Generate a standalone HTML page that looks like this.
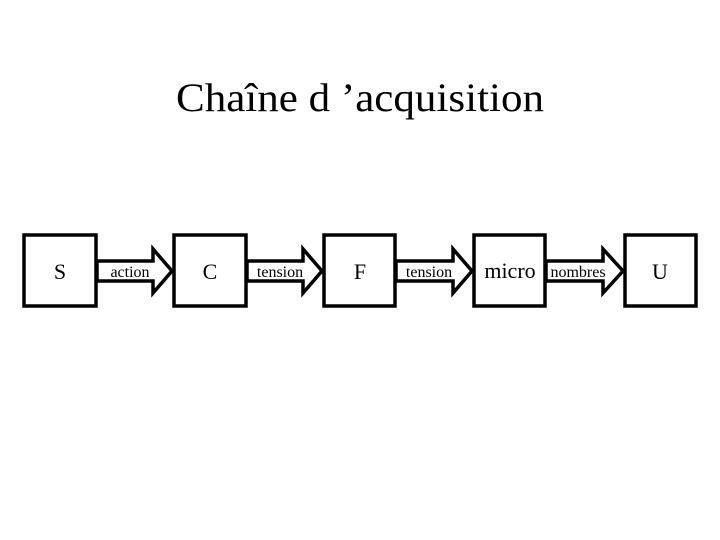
<!DOCTYPE html>
<html><head><meta charset="utf-8"><style>html,body{margin:0;padding:0;background:#fff}svg{display:block}</style></head>
<body>
<svg width="720" height="540" viewBox="0 0 720 540" xmlns="http://www.w3.org/2000/svg">
<rect width="720" height="540" fill="#fff"/>
<text x="360" y="111" font-family="Liberation Serif, serif" font-size="40" text-anchor="middle" textLength="368" lengthAdjust="spacingAndGlyphs">Chaîne d ’acquisition</text>
<g fill="#fff" stroke="#000" stroke-width="3.5" stroke-linejoin="miter">
<rect x="24" y="235" width="72" height="71"/>
<rect x="174" y="235" width="72" height="71"/>
<rect x="324" y="235" width="71" height="71"/>
<rect x="474" y="235" width="71" height="71"/>
<rect x="625" y="235" width="71" height="71"/>
<polygon points="97,261 153,261 153,249 172,271 153,293 153,281 97,281"/>
<polygon points="247,261 303,261 303,249 322,271 303,293 303,281 247,281"/>
<polygon points="396,261 453,261 453,249 472,271 453,293 453,281 396,281"/>
<polygon points="546,261 603,261 603,249 623,271 603,293 603,281 546,281"/>
</g>
<g font-family="Liberation Serif, serif" text-anchor="middle">
<text x="60" y="279" font-size="22">S</text>
<text x="210" y="279" font-size="22">C</text>
<text x="360" y="279" font-size="22">F</text>
<text x="510" y="278" font-size="22">micro</text>
<text x="660" y="279" font-size="22">U</text>
<text x="130" y="277" font-size="16">action</text>
<text x="280" y="277" font-size="16">tension</text>
<text x="429" y="277" font-size="16">tension</text>
<text x="578" y="277" font-size="16">nombres</text>
</g>
</svg>
</body></html>
